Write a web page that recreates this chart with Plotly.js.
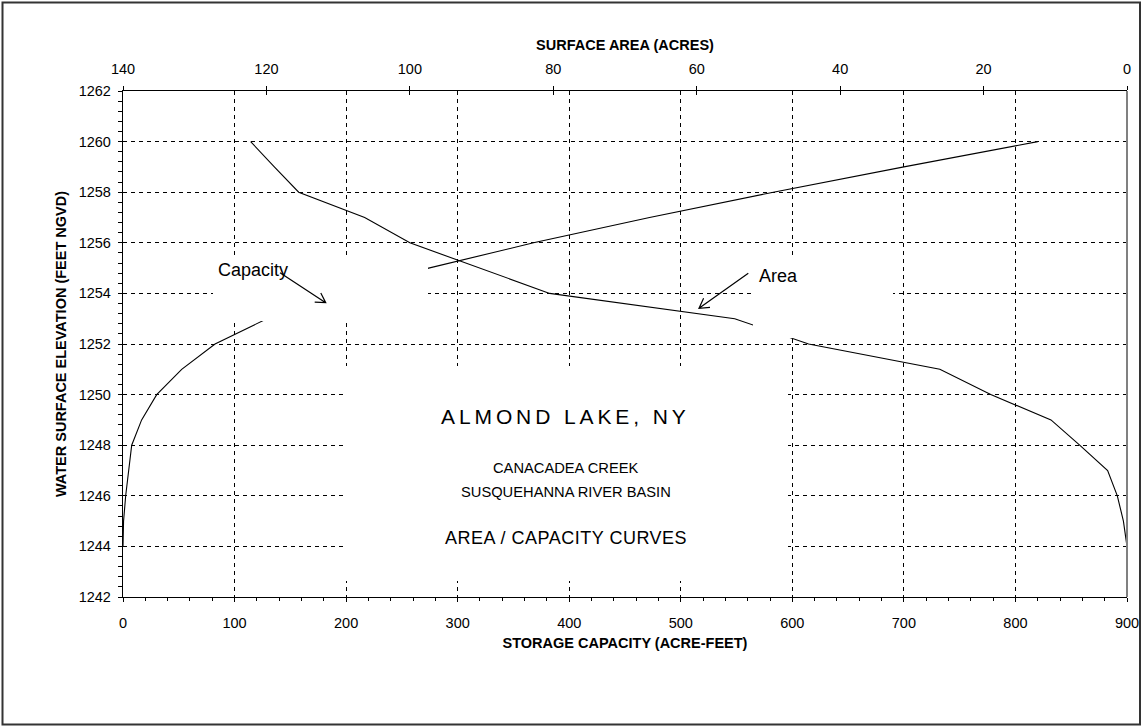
<!DOCTYPE html>
<html>
<head>
<meta charset="utf-8">
<script src="https://cdn.plot.ly/plotly-3.0.1.min.js"></script>
<style>
html,body{margin:0;padding:0;background:#fff;}
#chart{width:1143px;height:727px;}
</style>
</head>
<body>
<div id="chart"></div>
<script>
// ---- data ----
const elevation = [1244,1245,1246,1247,1248,1249,1250,1251,1252,1253,1254,1255,1256,1257,1258,1259,1260];
const storageCapacity = [0,0.5,2.4,4.8,7.8,16.7,30.2,52.6,82.5,129,195,274,368,472,583,700,820];
const surfaceArea = [0,0.5,1.35,2.7,6.6,10.6,19,26.1,44.4,54.7,80.5,90.3,100,106.3,115.5,118.9,122.2];

const labelTexts = {
  capacity: 'Capacity',
  area: 'Area',
  lake: 'ALMOND LAKE, NY',
  creek: 'CANACADEA CREEK',
  basin: 'SUSQUEHANNA RIVER BASIN',
  curves: 'AREA / CAPACITY CURVES'
};
const axisTitles = {
  bottom: 'STORAGE CAPACITY (ACRE-FEET)',
  top: 'SURFACE AREA (ACRES)',
  left: 'WATER SURFACE ELEVATION (FEET NGVD)'
};

// ---- layout geometry ----
const W = 1143, H = 727, ML = 123, MR = 16, MT = 91, MB = 130;
const PW = W - ML - MR, PH = H - MT - MB;
const px = v => (v - ML) / PW;          // pixel x -> paper
const py = v => (H - MB - v) / PH;      // pixel y -> paper
const FONT = 'Liberation Sans, Arial, sans-serif';

const traces = [
  {x: storageCapacity, y: elevation, xaxis: 'x', yaxis: 'y', mode: 'lines',
   line: {color: '#000', width: 1.1}, hoverinfo: 'skip', showlegend: false},
  {x: surfaceArea, y: elevation, xaxis: 'x2', yaxis: 'y', mode: 'lines',
   line: {color: '#000', width: 1.1}, hoverinfo: 'skip', showlegend: false}
];

function whiteBox(x0, x1, y0, y1) {
  return {type: 'rect', xref: 'paper', yref: 'paper', layer: 'above',
    x0: px(x0), x1: px(x1), y0: py(y0), y1: py(y1),
    fillcolor: '#fff', line: {width: 0}};
}
function arrow(tipX, tipY, path) {
  return {type: 'path', xref: 'paper', yref: 'paper', layer: 'above',
    xsizemode: 'pixel', ysizemode: 'pixel', xanchor: px(tipX), yanchor: py(tipY),
    path: path, line: {color: '#000', width: 1.2}};
}

const shapes = [
  whiteBox(213, 428, 255, 321),
  whiteBox(753, 893, 258, 338),
  whiteBox(344, 788, 366, 581),
  {type: 'line', xref: 'paper', yref: 'paper', layer: 'above', x0: 1, x1: 1, y0: 0, y1: 1,
   line: {color: '#808080', width: 2}},
  {type: 'rect', xref: 'paper', yref: 'paper', layer: 'above',
   x0: px(2.5), x1: px(1140), y0: py(2.5), y1: py(724.5),
   line: {color: '#333', width: 2}},
  arrow(325.7, 302.7, 'M -45.7,30 L 0,0 M -11,0.6 L 0,0 L -4.9,9.8'),
  arrow(699, 308.3, 'M 49.3,35 L 0,0 M 11,1 L 0,0 L 4.6,10')
];

function ann(text, x, y, size, xanchor, extra) {
  return Object.assign({text: text, xref: 'paper', yref: 'paper', x: px(x), y: py(y),
    xanchor: xanchor, yanchor: 'middle', showarrow: false, borderpad: 0,
    font: {family: FONT, size: size, color: '#000'}}, extra || {});
}

const annotations = [
  ann(labelTexts.capacity, 217, 270, 18, 'left'),
  ann(labelTexts.area, 758, 275.5, 18, 'left'),
  ann('<span style="letter-spacing:3.9px">' + labelTexts.lake + '</span>', 565.5, 416.2, 21, 'center'),
  ann(labelTexts.creek, 565.5, 468.3, 14.7, 'center'),
  ann(labelTexts.basin, 566, 491.7, 14.7, 'center'),
  ann('<span style="letter-spacing:0.5px">' + labelTexts.curves + '</span>', 565.5, 537.9, 18, 'center')
];

const tickFont = {family: FONT, size: 14.5, color: '#000'};
const titleFont = {family: FONT, size: 14.5, color: '#000', weight: 'bold'};

const layout = {
  width: W, height: H,
  margin: {l: ML, r: MR, t: MT, b: MB, autoexpand: false},
  paper_bgcolor: '#fff', plot_bgcolor: '#fff',
  font: {family: FONT, color: '#000'},
  showlegend: false,
  xaxis: {
    range: [0, 900], tickmode: 'linear', tick0: 0, dtick: 100,
    showline: true, linecolor: '#000', linewidth: 1.2,
    ticks: 'outside', ticklen: 4, tickcolor: '#000', tickwidth: 1,
    minor: {dtick: 20, ticks: 'outside', ticklen: 3, tickcolor: '#000', showgrid: false},
    showgrid: true, gridcolor: '#000', gridwidth: 1, griddash: '4px,4px',
    zeroline: false, tickfont: tickFont, ticklabelstandoff: 8,
    title: {text: axisTitles.bottom, font: titleFont, standoff: 8},
    automargin: false, fixedrange: true
  },
  xaxis2: {
    overlaying: 'x', side: 'top', anchor: 'y',
    range: [140, 0], tickmode: 'linear', tick0: 0, dtick: 20,
    showline: true, linecolor: '#000', linewidth: 1.2,
    ticks: 'outside', ticklen: 4, tickcolor: '#000',
    showgrid: false, zeroline: false, tickfont: tickFont, ticklabelstandoff: 6,
    title: {text: axisTitles.top, font: titleFont, standoff: 7},
    automargin: false, fixedrange: true
  },
  xaxis3: {
    overlaying: 'x', side: 'top', anchor: 'y',
    range: [140, 0], tickmode: 'linear', tick0: 0, dtick: 20,
    showline: false, ticks: 'inside', ticklen: 4, tickcolor: '#000',
    showticklabels: false, showgrid: false, zeroline: false, fixedrange: true
  },
  yaxis: {
    range: [1242, 1262], tickmode: 'linear', tick0: 1242, dtick: 2,
    showline: true, linecolor: '#000', linewidth: 1.2,
    ticks: 'outside', ticklen: 4, tickcolor: '#000',
    minor: {dtick: 0.4, tick0: 1242, ticks: 'outside', ticklen: 4, tickcolor: '#000', showgrid: false},
    showgrid: true, gridcolor: '#000', gridwidth: 1, griddash: '4px,4px',
    zeroline: false, tickfont: tickFont, ticklabelstandoff: 4,
    title: {text: axisTitles.left, font: titleFont, standoff: 8},
    automargin: false, fixedrange: true
  },
  shapes: shapes,
  annotations: annotations
};

// invisible helper trace so the inside-tick top axis is drawn
traces.push({x: [140], y: [1262], xaxis: 'x3', yaxis: 'y', mode: 'markers',
  marker: {opacity: 0}, hoverinfo: 'skip', showlegend: false});

Plotly.newPlot('chart', traces, layout, {staticPlot: true, displayModeBar: false});
</script>
</body>
</html>
